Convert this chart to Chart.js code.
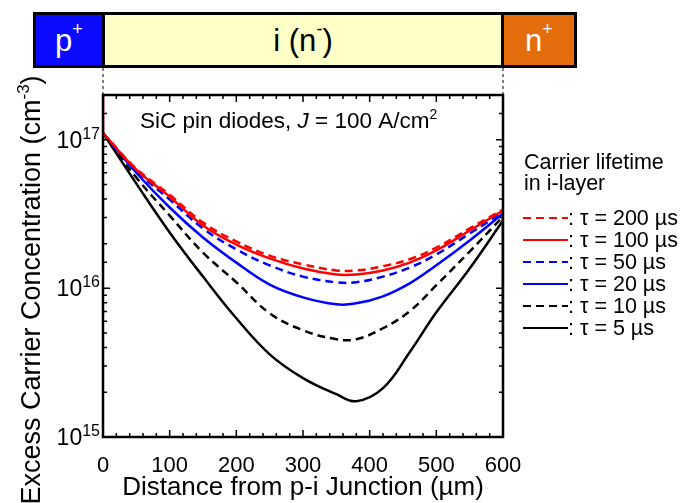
<!DOCTYPE html>
<html>
<head>
<meta charset="utf-8">
<script src="https://cdn.jsdelivr.net/npm/chart.js@4.4.1/dist/chart.umd.min.js"></script>
<style>
  body { margin: 0; background: #fff; }
  #wrap { position: relative; width: 684px; height: 503px; font-family: "Liberation Sans", Arial, sans-serif; }
  #chart { position: absolute; left: 0; top: 0; }
  .layer { position: absolute; top: 12px; height: 50px; border: 3px solid #000; display: flex;
           align-items: center; justify-content: center; font-size: 31px; line-height: 1; }
  .layer .sup { font-size: 18px; position: relative; top: -11px; }
  #pLayer { left: 33px; width: 66px; background: #0a0aff; color: #fff; }
  #iLayer { left: 102px; width: 396px; background: #ffffc8; color: #000; }
  #nLayer { left: 501px; width: 70px; background: #e46c0a; color: #fff; }
</style>
</head>
<body>
<div id="wrap">
  <canvas id="chart" width="684" height="503"></canvas>
  <div class="layer" id="pLayer">p<span class="sup">+</span></div>
  <div class="layer" id="iLayer">i (n<span class="sup">-</span>)</div>
  <div class="layer" id="nLayer">n<span class="sup">+</span></div>
</div>
<script>
// distance from the p-i junction (um)
const depth = [0, 50, 100, 150, 200, 250, 300, 350, 380, 420, 460, 500, 550, 600];
// excess carrier concentration (cm^-3) for each carrier lifetime
const tau200 = [1.11e17, 6.39e16, 4.27e16, 2.77e16, 2.07e16, 1.66e16, 1.45e16, 1.32e16, 1.32e16, 1.41e16, 1.57e16, 1.88e16, 2.53e16, 3.39e16];
const tau100 = [1.11e17, 6.29e16, 4.14e16, 2.65e16, 1.97e16, 1.59e16, 1.36e16, 1.24e16, 1.24e16, 1.32e16, 1.49e16, 1.80e16, 2.45e16, 3.34e16];
const tau50  = [1.11e17, 6.19e16, 3.96e16, 2.53e16, 1.83e16, 1.43e16, 1.20e16, 1.10e16, 1.10e16, 1.20e16, 1.38e16, 1.69e16, 2.34e16, 3.24e16];
const tau20  = [1.11e17, 6.00e16, 3.50e16, 2.20e16, 1.49e16, 1.06e16, 8.70e15, 7.81e15, 7.93e15, 8.84e15, 1.08e16, 1.43e16, 2.10e16, 3.19e16];
const tau10  = [1.11e17, 5.56e16, 3.09e16, 1.74e16, 1.10e16, 6.80e15, 5.23e15, 4.55e15, 4.55e15, 5.39e15, 7.01e15, 1.05e16, 1.77e16, 3.04e16];
const tau5   = [1.11e17, 5.07e16, 2.38e16, 1.20e16, 6.29e15, 3.60e15, 2.49e15, 1.94e15, 1.74e15, 2.13e15, 3.72e15, 6.90e15, 1.36e16, 2.86e16];
const lifetimeLabels = ['\u03c4 = 200 \u00b5s', '\u03c4 = 100 \u00b5s', '\u03c4 = 50 \u00b5s', '\u03c4 = 20 \u00b5s', '\u03c4 = 10 \u00b5s', '\u03c4 = 5 \u00b5s'];
// jumps at the contacts (x = 0 and x = 600)
const pEdgeRed  = [1.11e17, 2.5e17];
const nEdgeRed  = [3.34e16, 7.1e15];
const nEdgeBlue = [3.19e16, 4.7e15];

const FONT = '"Liberation Sans", Arial, sans-serif';
Chart.defaults.font.family = FONT;
Chart.defaults.color = '#000';

const RED = '#ff0000', BLUE = '#0000ff', BLACK = '#000000';
const DASH = [8, 5];
const seriesStyle = [
  { color: RED, dash: DASH }, { color: RED, dash: [] },
  { color: BLUE, dash: DASH }, { color: BLUE, dash: [] },
  { color: BLACK, dash: DASH }, { color: BLACK, dash: [] }
];

const series = [tau200, tau100, tau50, tau20, tau10, tau5];
const datasets = series.map((vals, i) => ({
  label: lifetimeLabels[i],
  data: vals.map((v, j) => ({ x: depth[j], y: v })),
  borderColor: seriesStyle[i].color,
  borderDash: seriesStyle[i].dash,
  borderWidth: 2.5,
  pointRadius: 0,
  tension: 0.4,
  fill: false,
  order: i + 1
}));

function edge(x, vals, color, order) {
  return { label: '', data: vals.map(v => ({ x: x, y: v })), borderColor: color,
           borderWidth: 2.5, pointRadius: 0, tension: 0, fill: false, order: order };
}
datasets.push(edge(0, pEdgeRed, RED, 0));
datasets.push(edge(600, nEdgeRed, RED, 0));
datasets.push(edge(600, nEdgeBlue, BLUE, 3.5));

function isDecade(v) {
  const e = Math.log10(v);
  return Math.abs(e - Math.round(e)) < 1e-6;
}

// draw a run of text pieces, returns total width
function drawRich(ctx, parts, x, y, measureOnly) {
  let cx = x;
  parts.forEach(p => {
    ctx.font = (p.style || '') + ' ' + p.size + 'px ' + FONT;
    if (!measureOnly) ctx.fillText(p.t, cx, y - (p.rise || 0));
    cx += ctx.measureText(p.t).width;
  });
  return cx - x;
}

const decor = {
  id: 'decor',
  afterDraw(chart) {
    const { ctx, chartArea: a, scales: { x, y } } = chart;
    ctx.save();

    // plot frame
    ctx.strokeStyle = '#000';
    ctx.lineWidth = 2.5;
    ctx.strokeRect(a.left, a.top, a.right - a.left, a.bottom - a.top);

    // inward ticks on all sides
    ctx.lineWidth = 1.5;
    ctx.beginPath();
    x.ticks.forEach(t => {
      const px = x.getPixelForValue(t.value);
      const len = t.value % 100 === 0 ? 7 : 4;
      ctx.moveTo(px, a.bottom); ctx.lineTo(px, a.bottom - len);
      ctx.moveTo(px, a.top); ctx.lineTo(px, a.top + len);
    });
    y.ticks.forEach(t => {
      const py = y.getPixelForValue(t.value);
      const len = isDecade(t.value) ? 7 : 4;
      ctx.moveTo(a.left, py); ctx.lineTo(a.left + len, py);
      ctx.moveTo(a.right, py); ctx.lineTo(a.right - len, py);
    });
    ctx.stroke();

    // dashed guides from the layer bar to the plot
    ctx.lineWidth = 1;
    ctx.setLineDash([3, 3]);
    ctx.beginPath();
    ctx.moveTo(a.left, 68); ctx.lineTo(a.left, a.top);
    ctx.moveTo(a.right, 68); ctx.lineTo(a.right, a.top);
    ctx.stroke();
    ctx.setLineDash([]);

    ctx.fillStyle = '#000';
    ctx.textBaseline = 'alphabetic';
    ctx.textAlign = 'left';

    // y tick labels 10^n
    y.ticks.forEach(t => {
      if (!isDecade(t.value)) return;
      const py = y.getPixelForValue(t.value);
      const exp = String(Math.round(Math.log10(t.value)));
      const parts = [{ t: '10', size: 23 }, { t: exp, size: 16, rise: 9 }];
      const w = drawRich(ctx, parts, 0, 0, true);
      drawRich(ctx, parts, 100 - w, py + 8);
    });

    // y axis title
    const yTitle = [
      { t: 'Excess Carrier Concentration (cm', size: 27 },
      { t: '-3', size: 17, rise: 11 },
      { t: ')', size: 27 }
    ];
    const tw = drawRich(ctx, yTitle, 0, 0, true);
    ctx.save();
    ctx.translate(40, 290);
    ctx.rotate(-Math.PI / 2);
    drawRich(ctx, yTitle, -tw / 2, 0);
    ctx.restore();

    // annotation
    drawRich(ctx, [
      { t: 'SiC pin diodes, ', size: 22.5 },
      { t: 'J', size: 22.5, style: 'italic' },
      { t: ' = 100 A/cm', size: 22.5 },
      { t: '2', size: 14, rise: 9 }
    ], 140, 128);

    // legend
    ctx.font = '21.5px ' + FONT;
    ctx.fillText('Carrier lifetime', 524, 169);
    ctx.fillText('in i-layer', 524, 190);
    chart.data.datasets.forEach((ds, i) => {
      if (!ds.label) return;
      const ly = 218 + 22 * i;
      ctx.strokeStyle = ds.borderColor;
      ctx.lineWidth = 2;
      ctx.setLineDash(ds.borderDash || []);
      ctx.beginPath();
      ctx.moveTo(523, ly); ctx.lineTo(568, ly);
      ctx.stroke();
      ctx.setLineDash([]);
      ctx.font = '21.5px ' + FONT;
      ctx.fillText(': ' + ds.label, 568, ly + 7);
    });

    ctx.restore();
  }
};

new Chart(document.getElementById('chart').getContext('2d'), {
  type: 'line',
  data: { datasets: datasets },
  options: {
    responsive: false,
    animation: false,
    devicePixelRatio: 1,
    layout: { padding: { left: 0, right: 181, top: 95, bottom: 0 } },
    scales: {
      x: {
        type: 'linear', min: 0, max: 600,
        grid: { display: false }, border: { display: false },
        ticks: { stepSize: 20, autoSkip: false, maxRotation: 0, padding: 8, font: { size: 22 },
                 callback: v => (v % 100 === 0 ? v : '') },
        title: { display: true, text: 'Distance from p-i Junction (\u00b5m)', font: { size: 26 },
                 padding: { top: 0, bottom: 0 } },
        afterFit: s => { s.height = 66; }
      },
      y: {
        type: 'logarithmic', min: 1e15, max: 2e17,
        grid: { display: false }, border: { display: false },
        ticks: { display: false, autoSkip: false },
        afterFit: s => { s.width = 103; }
      }
    },
    plugins: { legend: { display: false }, tooltip: { enabled: false } }
  },
  plugins: [decor]
});
</script>
</body>
</html>
